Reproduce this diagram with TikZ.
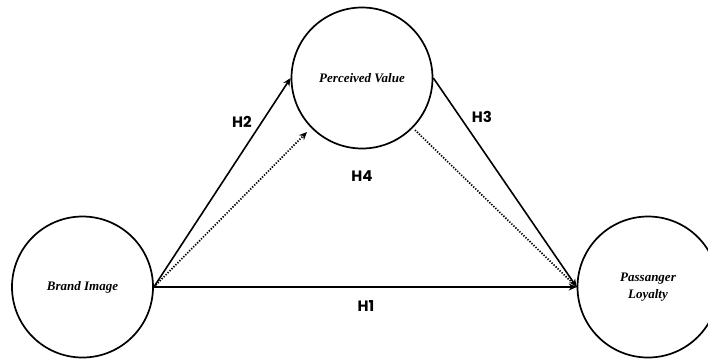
\documentclass[tikz,border=0pt]{standalone}
\usepackage{fontspec}
\setmainfont{Liberation Serif}
\newfontfamily\lblfont{Poppins}
\usetikzlibrary{arrows.meta}
\begin{document}
\begin{tikzpicture}[x=1pt,y=-1pt,
  construct/.style={circle,draw,line width=1.7pt,minimum size=141pt,inner sep=0pt,align=center,font=\fontsize{13}{17}\selectfont\bfseries\itshape},
  path/.style={line width=1.6pt,-{Stealth[length=8pt,width=7pt]}},
  indirect/.style={line width=1.7pt,dash pattern=on 1.3pt off 1.5pt,-{Stealth[length=8pt,width=7pt]}},
  hlabel/.style={font=\lblfont\fontsize{15}{17}\selectfont\bfseries}]
\useasboundingbox (0,0) rectangle (708,360);
\clip (0,0) rectangle (708,360);
\node[construct] (bi) at (82.5,287) {Brand Image};
\node[construct] (pv) at (362,78) {Perceived Value};
\node[construct] (pl) at (648,287) {Passanger\\Loyalty};
\coordinate (pvin) at (307,132);
\coordinate (pvout) at (415,130);
\draw[path] (bi.east) -- (pl.west);
\draw[path] (bi.east) -- (pv.west);
\draw[path] (pv.east) -- (pl.west);
\draw[indirect] (bi.east) -- (pvin);
\draw[indirect,-] (pvout) -- (pl.west);
\node[hlabel] (h1) at (366,306) {H1};
\node[hlabel] (h2) at (242,122) {H2};
\node[hlabel] (h3) at (482,117) {H3};
\node[hlabel] (h4) at (362,176) {H4};
\end{tikzpicture}
\end{document}
